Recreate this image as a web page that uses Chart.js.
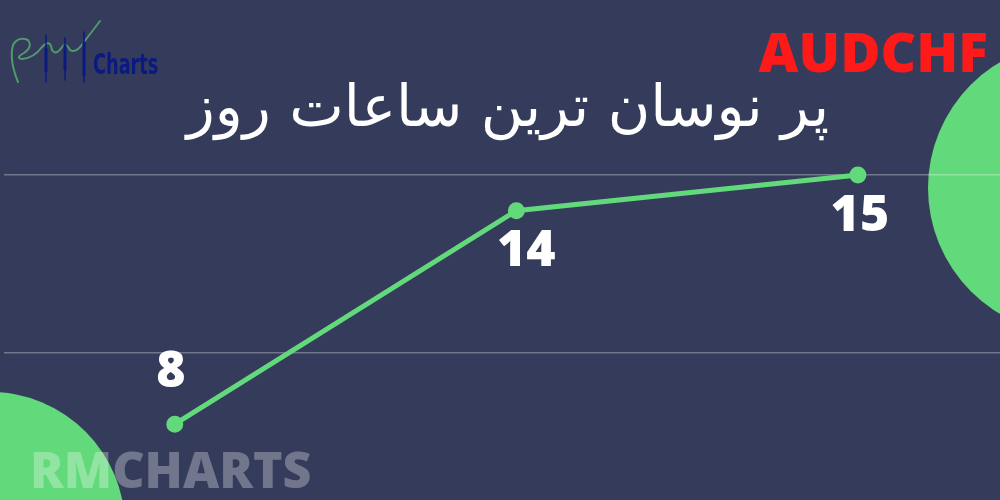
<!DOCTYPE html>
<html>
<head>
<meta charset="utf-8">
<script src="https://cdn.jsdelivr.net/npm/chart.js@4"></script>
<style>
  html, body { margin: 0; padding: 0; background: #343b5b; }
  #wrap { position: relative; width: 1000px; height: 500px; }
</style>
</head>
<body>
<div id="wrap"><canvas id="chart"></canvas></div>
<script>
// ---- data ----
const hours = [0, 1, 2];
const counts = [8, 14, 15];
const gridValues = [10, 15];
const pairName = "AUDCHF";
const titleText = "پر نوسان ترین ساعات روز";
const watermark = "RMCHARTS";

const GREEN = '#62d97a';
const BG = '#343b5b';

// label offsets (px) from each point: first one sits above
const labelDx = [-4, 10, 2];
const labelDy = [-51, 41, 42];

// decorations: background blobs + logo, drawn before the chart
const decorPlugin = {
    id: 'decor',
    beforeDraw(chart) {
        const c = chart.ctx;
        c.save();
        c.fillStyle = GREEN;
        c.beginPath();
        c.arc(1074, 188, 146, 0, Math.PI * 2);
        c.fill();
        c.beginPath();
        c.arc(-10, 527, 135, 0, Math.PI * 2);
        c.fill();

        // logo: green hand-drawn "RM" swoosh
        c.strokeStyle = '#4f9a6a';
        c.lineWidth = 2;
        c.lineCap = 'round';
        c.lineJoin = 'round';
        c.beginPath();
        c.moveTo(18, 82);
        c.quadraticCurveTo(9, 60, 13, 45);
        c.quadraticCurveTo(18, 36, 28, 40);
        c.quadraticCurveTo(33, 47, 24, 53);
        c.quadraticCurveTo(15, 58, 22, 59);
        c.quadraticCurveTo(34, 58, 42, 47);
        c.quadraticCurveTo(50, 38, 52, 50);
        c.quadraticCurveTo(56, 56, 62, 47);
        c.quadraticCurveTo(66, 42, 70, 50);
        c.quadraticCurveTo(76, 54, 84, 42);
        c.lineTo(100, 21);
        c.stroke();

        // logo candlesticks
        c.strokeStyle = '#0b1a80';
        c.fillStyle = '#0b1a80';
        [[46, 35, 82, 48, 72], [65, 38, 80, 45, 70], [84, 32, 82, 42, 76]].forEach(([x, t, b, bt, bb]) => {
            c.lineWidth = 1.5;
            c.beginPath(); c.moveTo(x, t); c.lineTo(x, b); c.stroke();
            c.fillRect(x - 1.5, bt, 3, bb - bt);
        });
        c.translate(93, 74);
        c.scale(0.68, 1);
        c.font = 'bold 29px "DejaVu Sans Condensed", "Liberation Sans Narrow", sans-serif';
        c.textBaseline = 'alphabetic';
        c.textAlign = 'left';
        c.fillText('Charts', 0, 0);
        c.restore();
    }
};

// value labels + texts on top
const textPlugin = {
    id: 'texts',
    afterDatasetsDraw(chart) {
        const c = chart.ctx;
        const meta = chart.getDatasetMeta(0);
        c.save();
        c.fillStyle = '#ffffff';
        c.font = '800 50px "Open Sans", sans-serif';
        c.textAlign = 'center';
        c.textBaseline = 'middle';
        meta.data.forEach((pt, i) => {
            c.fillText(String(counts[i]), pt.x + labelDx[i], pt.y + labelDy[i]);
        });
        c.restore();
    },
    afterDraw(chart) {
        const c = chart.ctx;
        c.save();
        c.textBaseline = 'alphabetic';

        c.fillStyle = '#ff1a1a';
        c.font = '800 55px "Open Sans", sans-serif';
        c.textAlign = 'right';
        c.fillText(pairName, 988, 72);

        c.fillStyle = '#ffffff';
        c.font = '58px "DejaVu Sans", sans-serif';
        c.textAlign = 'center';
        c.direction = 'rtl';
        c.fillText(titleText, 508, 126);
        c.direction = 'ltr';

        c.fillStyle = 'rgba(255,255,255,0.3)';
        c.font = '800 50px "Open Sans", sans-serif';
        c.textAlign = 'left';
        c.fillText(watermark, 30, 488);
        c.restore();
    }
};

new Chart(document.getElementById('chart'), {
    type: 'line',
    data: {
        labels: hours,
        datasets: [{
            data: hours.map((h, i) => ({ x: h, y: counts[i] })),
            borderColor: GREEN,
            backgroundColor: GREEN,
            borderWidth: 5,
            pointRadius: 6,
            pointHoverRadius: 6,
            tension: 0,
            clip: false
        }]
    },
    options: {
        responsive: true,
        maintainAspectRatio: false,
        animation: false,
        events: [],
        layout: { padding: 0, autoPadding: false },
        plugins: {
            legend: { display: false },
            tooltip: { enabled: false }
        },
        scales: {
            x: {
                type: 'linear',
                display: false,
                min: -0.5,
                max: 2.416
            },
            y: {
                min: 5.87,
                max: 19.92,
                afterBuildTicks: scale => { scale.ticks = gridValues.map(v => ({ value: v })); },
                afterFit: scale => { scale.width = 4; },
                ticks: { display: false },
                border: { display: false },
                grid: {
                    color: 'rgba(255,255,255,0.3)',
                    lineWidth: 1.5,
                    drawTicks: false
                }
            }
        }
    },
    plugins: [decorPlugin, textPlugin]
});
</script>
</body>
</html>
